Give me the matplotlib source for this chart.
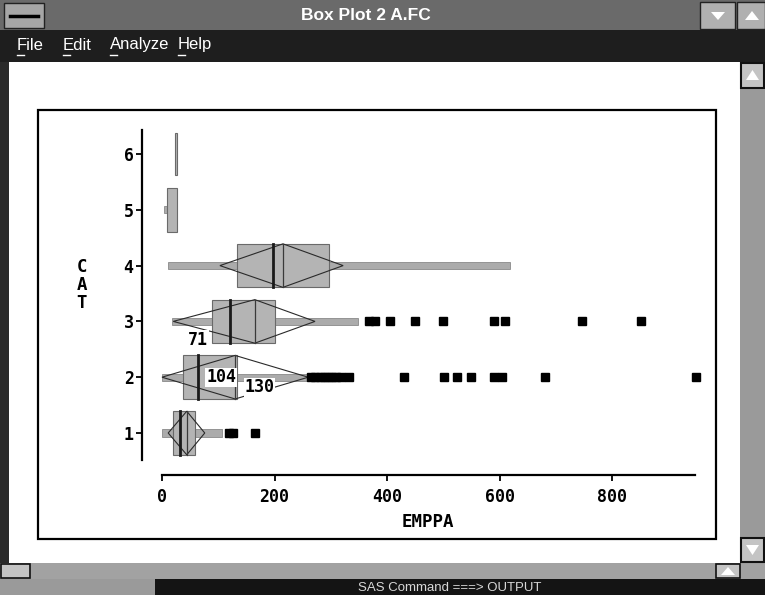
import matplotlib
matplotlib.use("Agg")
import matplotlib.pyplot as plt
from matplotlib.patches import Rectangle, Polygon

# ---------------- data ----------------
cats = [1, 2, 3, 4, 5, 6]
q1 = [20, 37, 88, 133, 9, 23]
median = [32, 64, 120, 198, 18, 24]
q3 = [59, 133, 201, 296, 26, 26]
mean = [44, 130, 165, 215, 18, 25]
whisk_lo = [0, 0, 17, 11, 4, 23]
whisk_hi = [107, 260, 349, 618, 26, 26]
diam_lo = [11, 0, 20, 103, 10, 24]
diam_hi = [76, 260, 272, 322, 26, 26]
outliers = {
    1: [119, 127, 166],
    2: [265, 272, 280, 288, 295, 302, 310, 318, 332, 430, 501, 525, 549, 590, 605, 681, 950],
    3: [368, 379, 405, 450, 500, 590, 610, 746, 851],
}
obs_labels = ["71", "104", "130"]
obs_x = [64, 105, 173]
obs_y = [2.67, 2.0, 1.82]
xticks = [0, 200, 400, 600, 800]
xlabel = "EMPPA"
ylabel = "CAT"
title = "Box Plot 2 A.FC"
menu = ["File", "Edit", "Analyze", "Help"]
menu_x = [17, 63, 110, 178]
status = "SAS Command ===> OUTPUT"

W, H = 765, 595
fig = plt.figure(figsize=(W / 100, H / 100), dpi=100)
fig.patch.set_facecolor("white")

# ---------------- window chrome ----------------
bg = fig.add_axes([0, 0, 1, 1])
bg.set_xlim(0, W)
bg.set_ylim(H, 0)
bg.axis("off")

def rect(x0, y0, x1, y1, fc, ec="none", lw=0, z=0):
    bg.add_patch(Rectangle((x0, y0), x1 - x0, y1 - y0, facecolor=fc,
                           edgecolor=ec, linewidth=lw, zorder=z))

rect(0, 0, W, 30, "#6a6a6a")                    # title bar
rect(4, 3, 44, 28, "#a6a6a6", "#222222", 1, 1)   # system box
bg.plot([10, 38], [16, 16], color="black", lw=2.5, zorder=2)
rect(700, 2, 735, 29, "#b0b0b0", "#222222", 1, 1)
rect(737, 2, 765, 29, "#b0b0b0", "#222222", 1, 1)
bg.add_patch(Polygon([[711, 12], [725, 12], [718, 20]], closed=True, fc="white", zorder=2))
bg.add_patch(Polygon([[745, 20], [759, 20], [752, 11]], closed=True, fc="white", zorder=2))
bg.text(366, 15, title, color="white", fontsize=12.5, ha="center", va="center",
        family="Liberation Sans", fontweight="bold")

rect(0, 30, W, 62, "#1e1e1e")                   # menu bar
for m, mx in zip(menu, menu_x):
    bg.text(mx, 45, m, color="white", fontsize=12, ha="left", va="center",
            family="Liberation Sans")
for mx in menu_x:
    bg.plot([mx, mx + 7], [55, 55], color="white", lw=1)

rect(0, 62, 9, 563, "#2a2a2a")                  # left border
rect(740, 62, W, 563, "#9a9a9a")                # right scrollbar
rect(741, 63, 764, 88, "#c4c4c4", "#111111", 1.5, 1)
bg.add_patch(Polygon([[746, 80], [759, 80], [752.5, 70]], closed=True, fc="white", zorder=2))
rect(741, 538, 764, 562, "#c4c4c4", "#111111", 1.5, 1)
bg.add_patch(Polygon([[746, 545], [759, 545], [752.5, 555]], closed=True, fc="white", zorder=2))
rect(0, 563, W, 579, "#a2a2a2")                 # bottom scrollbar
rect(1, 564, 30, 578, "#c4c4c4", "#111111", 1.2, 1)
rect(716, 564, 740, 578, "#c4c4c4", "#111111", 1.2, 1)
bg.add_patch(Polygon([[721, 575], [735, 575], [728, 567]], closed=True, fc="white", zorder=2))
rect(0, 579, W, H, "#141414")                   # status bar
rect(0, 579, 155, H, "#9a9a9a")
bg.text(450, 588, status, color="#d8d8d8", fontsize=9.5, ha="center", va="center",
        family="Liberation Sans")

rect(38, 110, 716, 539, "none", "black", 1.6, 3)  # plot frame

# ---------------- plot axes ----------------
px0, px1, py0, py1 = 142, 700, 130, 475
x_at_px = lambda p: (p - 162) / 0.5625
ax = fig.add_axes([px0 / W, (H - py1) / H, (px1 - px0) / W, (py1 - py0) / H])
ax.set_facecolor("none")
ax.set_xlim(x_at_px(px0), x_at_px(px1))
ylo = 1 - (py1 - 433) / 55.8
yhi = 1 + (433 - py0) / 55.8
ax.set_ylim(ylo, yhi)

hb = 0.39   # half box height
hw = 0.065  # half whisker height
box_fc = "#b4b4b4"
for i, c in enumerate(cats):
    h = hb if c != 6 else 0.37
    ax.add_patch(Rectangle((whisk_lo[i], c - hw), whisk_hi[i] - whisk_lo[i], 2 * hw,
                           facecolor="#ababab", edgecolor="#7a7a7a", lw=0.5, zorder=2))
    ax.add_patch(Rectangle((q1[i], c - h), q3[i] - q1[i], 2 * h,
                           facecolor=box_fc, edgecolor="#6a6a6a", lw=0.8, zorder=3))
    if c <= 4:
        ax.add_patch(Polygon([[diam_lo[i], c], [mean[i], c + h], [diam_hi[i], c],
                              [mean[i], c - h]], closed=True, fill=False,
                             edgecolor="#2a2a2a", lw=0.8, zorder=4))
        ax.plot([mean[i], mean[i]], [c - h, c + h], color="#3a3a3a", lw=0.9, zorder=4)
        ax.plot([median[i], median[i]], [c - h, c + h], color="#1a1a1a", lw=2.0, zorder=4)

for c, vals in outliers.items():
    ax.plot(vals, [c] * len(vals), "s", color="black", ms=6, mec="black", zorder=5,
            clip_on=False)

for s, x, y in zip(obs_labels, obs_x, obs_y):
    ax.text(x, y, s, fontsize=12, fontweight="bold", family="DejaVu Sans Mono",
            ha="center", va="center", zorder=6,
            bbox=dict(facecolor="white", edgecolor="none", pad=0.5))

for side in ["top", "right"]:
    ax.spines[side].set_visible(False)
ax.spines["left"].set_linewidth(1.6)
ax.spines["bottom"].set_linewidth(1.6)
ax.spines["left"].set_bounds(1 - (460 - 433) / 55.8, yhi)
ax.spines["bottom"].set_bounds(0, x_at_px(695))
ax.set_xticks(xticks)
ax.set_yticks(cats)
ax.set_yticklabels([str(c) for c in cats])
ax.tick_params(axis="both", length=4, width=1.3, color="black", labelsize=12)
ax.tick_params(axis="x", pad=5)
ax.tick_params(axis="y", pad=2)
for lab in ax.get_xticklabels() + ax.get_yticklabels():
    lab.set_fontweight("bold")
    lab.set_family("DejaVu Sans Mono")

bg.text(428, 522, xlabel, fontsize=12.5, fontweight="bold", family="DejaVu Sans Mono",
        ha="center", va="center", zorder=5)
for k, ch in enumerate(ylabel):
    bg.text(82, 267 + k * 18, ch, fontsize=12.5, fontweight="bold",
            family="DejaVu Sans Mono", ha="center", va="center", zorder=5)

fig.savefig("out.png", dpi=100)
